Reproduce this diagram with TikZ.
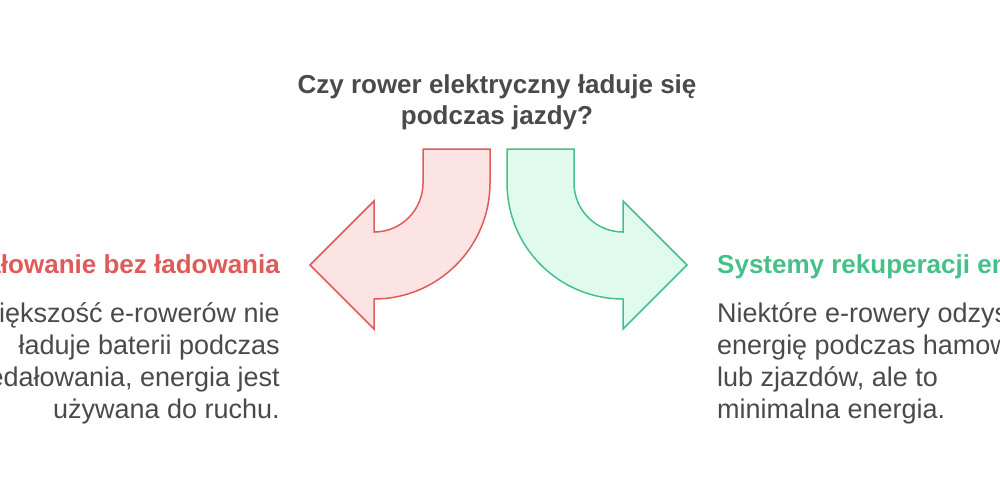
\documentclass[tikz,border=0pt]{standalone}
\usepackage{fontspec}
\setmainfont{Liberation Sans}
\definecolor{rosso}{HTML}{E05A5A}
\definecolor{rossochiaro}{HTML}{FDE4E4}
\definecolor{verde}{HTML}{45C088}
\definecolor{verdechiaro}{HTML}{E0FAEE}
\definecolor{grigio}{HTML}{4A4A4A}
\begin{document}
\begin{tikzpicture}[x=1pt,y=-1pt,
    testo/.style={font=\fontsize{27}{31.7}\selectfont, text=grigio, inner sep=0pt},
    titolo/.style={testo, font=\fontsize{26}{31}\selectfont\bfseries},
    freccia/.style={line width=1.5pt, line join=miter}]

        % Riquadro della figura
        \useasboundingbox (0,0) rectangle (1000,498);

        % Domanda in alto (base = ultima riga)
        \node[titolo, align=center, anchor=base] (domanda) at (497,124)
            {Czy rower elektryczny ładuje się\\podczas jazdy?};

        % Freccia rossa (verso sinistra)
        \draw[freccia, draw=rosso, fill=rossochiaro]
            (423,149) -- (490,149) -- (490,183)
            arc[start angle=0, end angle=90, radius=116]
            -- (374,329) -- (310,265) -- (374,201) -- (374,232)
            arc[start angle=90, end angle=0, radius=49] -- cycle;

        % Freccia verde (verso destra)
        \draw[freccia, draw=verde, fill=verdechiaro]
            (574,149) -- (507,149) -- (507,183)
            arc[start angle=180, end angle=90, radius=116]
            -- (623,329) -- (687,265) -- (623,201) -- (623,232)
            arc[start angle=90, end angle=180, radius=49] -- cycle;

        % Ramo sinistro
        \node[titolo, text=rosso, anchor=base east] (pedalowanie) at (280,273)
            {Pedałowanie bez ładowania};
        \node[testo, align=right, anchor=base east] (wiekszosc) at (280,418)
            {Większość e-rowerów nie\\ładuje baterii podczas\\pedałowania, energia jest\\używana do ruchu.};

        % Ramo destro
        \node[titolo, text=verde, anchor=base west] (systemy) at (717,273)
            {Systemy rekuperacji energii};
        \node[testo, align=left, anchor=base west] (niektore) at (717,418)
            {Niektóre e-rowery odzyskują\\energię podczas hamowania\\lub zjazdów, ale to\\minimalna energia.};

    \end{tikzpicture}
\end{document}
